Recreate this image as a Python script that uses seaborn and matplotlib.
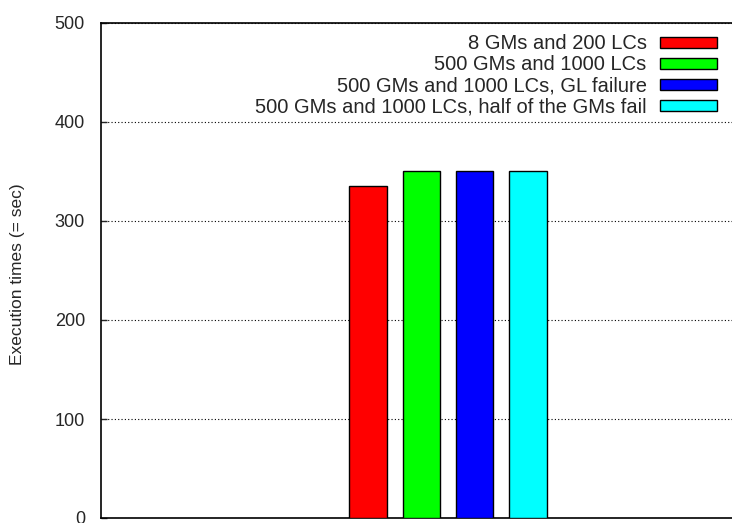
import pandas as pd
import matplotlib
matplotlib.use("Agg")
import matplotlib.pyplot as plt
from matplotlib.patches import Patch
import seaborn as sns

sns.set_theme(style="white")
plt.rcParams["font.family"] = ["Liberation Sans", "DejaVu Sans"]

configs = [
    "8 GMs and 200 LCs",
    "500 GMs and 1000 LCs",
    "500 GMs and 1000 LCs, GL failure",
    "500 GMs and 1000 LCs, half of the GMs fail",
]
times = [335, 351, 350, 350]
colors = ["#ff0000", "#00ff00", "#0000ff", "#00ffff"]
yticks = [0, 100, 200, 300, 400, 500]

df = pd.DataFrame({"group": ["run"] * len(configs), "config": configs, "time": times})

fig = plt.figure(figsize=(7.32, 5.23), dpi=100)
ax = fig.add_axes([101 / 732, 5 / 523, 631 / 732, 495 / 523])

sns.barplot(data=df, x="group", y="time", hue="config", hue_order=configs,
            palette=colors, gap=0.3, edgecolor="black", linewidth=1.0,
            saturation=1, legend=False, ax=ax, zorder=3)

ax.set_xlim(-1.3, 1.064)
ax.set_ylim(0, 500)
ax.set_yticks(yticks)
ax.set_yticklabels([str(v) for v in yticks], fontsize=13)
ax.set_xticks([])
ax.set_xlabel("")
ax.set_ylabel("Execution times (= sec)", fontsize=12.5)
ax.yaxis.set_label_coords(-76 / 631, 0.493)

ax.grid(axis="y", color="black", linestyle=(0, (1, 2)), linewidth=0.8, zorder=0)
ax.tick_params(axis="y", direction="in", length=4, width=1, left=True, pad=11.5)
for side in ["left", "top", "bottom"]:
    ax.spines[side].set_color("black")
    ax.spines[side].set_linewidth(1.2)
ax.spines["right"].set_visible(False)

# legend: text right-aligned, colour box on the right (gnuplot style)
handles = [Patch(facecolor=c, edgecolor="black", linewidth=1.0) for c in colors]
leg = ax.legend(handles, configs, loc="upper right",
                bbox_to_anchor=(615.7 / 631, 0.977), frameon=False,
                markerfirst=False, fontsize=14.5, handlelength=2.82, handleheight=0.47,
                labelspacing=0.105, handletextpad=0.66, borderaxespad=0, borderpad=0)

fig.savefig("out.png", dpi=100)
